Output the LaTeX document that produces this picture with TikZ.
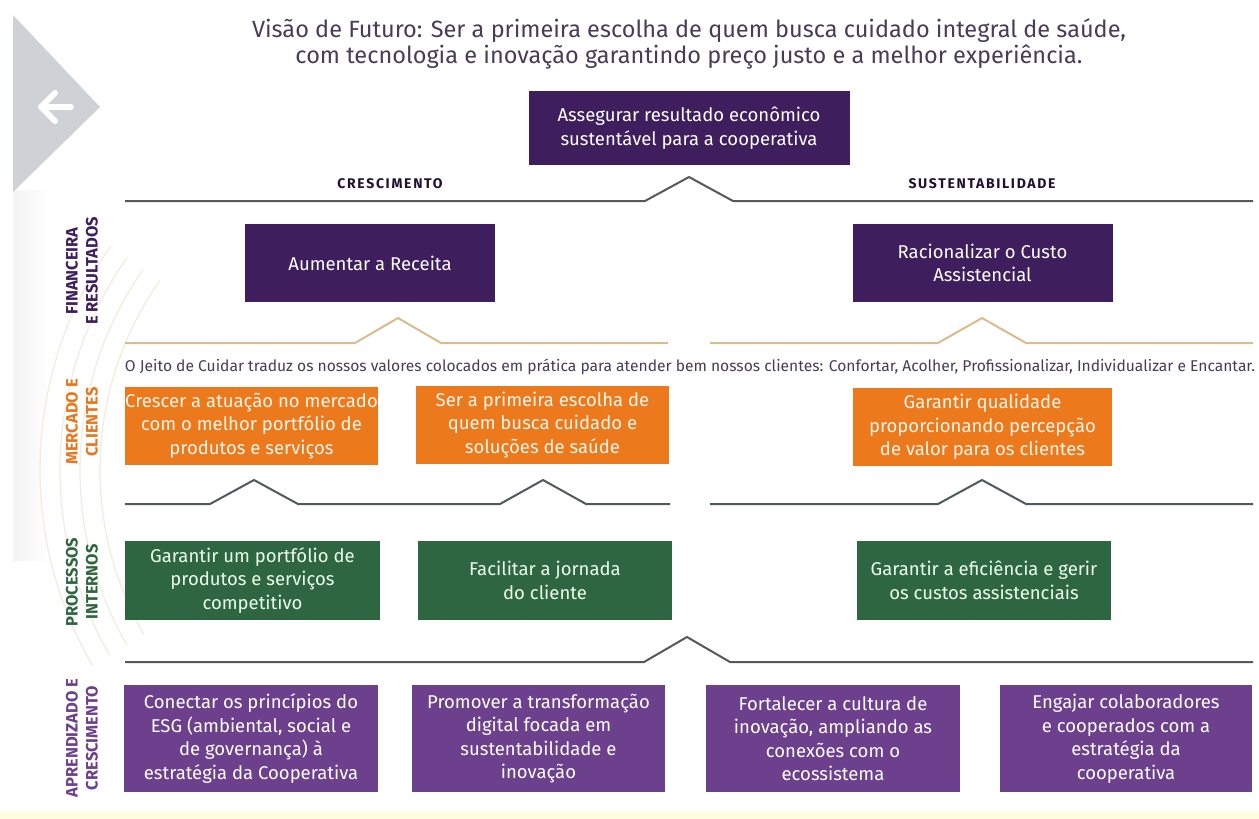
\documentclass[tikz,border=0pt]{standalone}
\usepackage{fontspec}
\setmainfont{Fira Sans}
\definecolor{titlec}{RGB}{72,60,88}
\definecolor{dpurple}{RGB}{62,30,92}
\definecolor{lpurple}{RGB}{108,64,140}
\definecolor{obox}{RGB}{236,122,28}
\definecolor{gbox}{RGB}{47,102,66}
\definecolor{sepgray}{RGB}{88,88,92}
\definecolor{septan}{RGB}{218,188,140}
\definecolor{sepslate}{RGB}{78,90,92}
\definecolor{trigray}{RGB}{206,209,213}
\definecolor{arccol}{RGB}{243,236,218}
\definecolor{labor}{RGB}{232,118,30}
\begin{document}
\begin{tikzpicture}[x=1pt,y=-1pt,
  bx/.style={inner sep=0pt, align=center, font=\fontsize{18.5}{23.5}\selectfont},
  dpbox/.style={bx, fill=dpurple, text=white},
  obx/.style={bx, fill=obox, text=white!92!orange},
  gbx/.style={bx, fill=gbox, text=white!92!green},
  lpbox/.style={bx, fill=lpurple, text=white},
  sideLabel/.style={rotate=90, align=center, inner sep=0pt, font=\bfseries\fontsize{16.5}{20}\selectfont},
  head/.style={inner sep=0pt, text=dpurple!55!black, font=\bfseries\fontsize{14}{16}\selectfont\addfontfeature{LetterSpace=12}},
  sepline/.style={line width=2pt, draw=sepgray, line join=miter},
  tanline/.style={line width=2pt, draw=septan},
  slateline/.style={line width=2pt, draw=sepslate}
]
\useasboundingbox (0,0) rectangle (1259,819);
\fill[white] (0,0) rectangle (1259,819);
% background decoration
\begin{scope}
\clip (0,0) rectangle (1259,819);
\shade[left color=gray!9, right color=white] (13,190) rectangle (50,560);
\foreach \r in {330,350,370,390}{
  \draw[arccol, line width=1.2pt] (430,470) ++(150:\r) arc (150:215:\r);
}
\foreach \r in {60,80,100,120}{
  \draw[arccol, line width=1.2pt] (690,900) ++(30:\r) arc (30:150:\r);
}
\fill[yellow!12] (0,811) rectangle (1259,819);
\end{scope}
% back arrow triangle
\fill[trigray] (13,15) -- (100,107) -- (13,192) -- cycle;
\draw[white, line width=6pt, line cap=round, line join=round] (71,107) -- (41,107);
\draw[white, line width=6pt, line cap=round, line join=round] (55,93) -- (41,107) -- (55,121);
% title
\node[align=center, text=titlec, font=\fontsize{23.5}{26}\selectfont] (title) at (689,44)
  {Visão de Futuro: Ser a primeira escolha de quem busca cuidado integral de saúde,\\com tecnologia e inovação garantindo preço justo e a melhor experiência.};
% top box
\node[dpbox, minimum width=321pt, minimum height=74pt] (top) at (689,128)
  {Assegurar resultado econômico\\sustentável para a cooperativa};
\node[head] (cres) at (390,184) {CRESCIMENTO};
\node[head] (sust) at (982,184) {SUSTENTABILIDADE};
\draw[sepline] (125,201) -- (645,201) -- (689,177) -- (733,201) -- (1253,201);
% side labels
\node[sideLabel, text=dpurple] (lfin) at (82,271) {FINANCEIRA\\E RESULTADOS};
\node[sideLabel, text=labor] (lmer) at (82,422) {MERCADO E\\CLIENTES};
\node[sideLabel, text=gbox] (lpro) at (82,582) {PROCESSOS\\INTERNOS};
\node[sideLabel, text=lpurple] (lapr) at (82,738) {APRENDIZADO E\\CRESCIMENTO};
% financial row
\node[dpbox, minimum width=250pt, minimum height=78pt] (aum) at (370,263) {Aumentar a Receita};
\node[dpbox, minimum width=260pt, minimum height=78pt] (rac) at (982.5,263) {Racionalizar o Custo\\Assistencial};
\draw[tanline] (125,343) -- (355,343) -- (398,318) -- (441,343) -- (668,343);
\draw[tanline] (710,343) -- (938,343) -- (982,318) -- (1026,343) -- (1253,343);
\node[text=titlec, inner sep=0pt] (jeito) at (690,367)
  {\resizebox{1130pt}{!}{O Jeito de Cuidar traduz os nossos valores colocados em prática para atender bem nossos clientes: Confortar, Acolher, Profissionalizar, Individualizar e Encantar.}};
% market row
\node[obx, minimum width=253pt, minimum height=78pt] (o1) at (251.5,426) {Crescer a atuação no mercado\\com o melhor portfólio de\\produtos e serviços};
\node[obx, minimum width=253pt, minimum height=78pt] (o2) at (542.5,425) {Ser a primeira escolha de\\quem busca cuidado e\\soluções de saúde};
\node[obx, minimum width=259pt, minimum height=78pt] (o3) at (982.5,427) {Garantir qualidade\\proporcionando percepção\\de valor para os clientes};
\draw[slateline] (125,504) -- (210,504) -- (254,480) -- (298,504) -- (500,504) -- (543,480) -- (586,504) -- (670,504);
\draw[slateline] (710,504) -- (938,504) -- (982,480) -- (1026,504) -- (1253,504);
% process row
\node[gbx, minimum width=255pt, minimum height=79pt] (g1) at (252.5,580.5) {Garantir um portfólio de\\produtos e serviços\\competitivo};
\node[gbx, minimum width=254pt, minimum height=79pt] (g2) at (545,580.5) {Facilitar a jornada\\do cliente};
\node[gbx, minimum width=254pt, minimum height=79pt] (g3) at (984,580.5) {Garantir a eficiência e gerir\\os custos assistenciais};
\draw[sepline] (125,662) -- (644,662) -- (687,637) -- (730,662) -- (1253,662);
% learning row
\node[lpbox, minimum width=254pt, minimum height=107pt] (p1) at (251,738.5) {Conectar os princípios do\\ESG (ambiental, social e\\de governança) à\\estratégia da Cooperativa};
\node[lpbox, minimum width=253pt, minimum height=107pt] (p2) at (538.5,738.5) {Promover a transformação\\digital focada em\\sustentabilidade e\\inovação};
\node[lpbox, minimum width=254pt, minimum height=107pt] (p3) at (833,738.5) {Fortalecer a cultura de\\inovação, ampliando as\\conexões com o\\ecossistema};
\node[lpbox, minimum width=252pt, minimum height=107pt] (p4) at (1126,738.5) {Engajar colaboradores\\e cooperados com a\\estratégia da\\cooperativa};
\end{tikzpicture}
\end{document}
